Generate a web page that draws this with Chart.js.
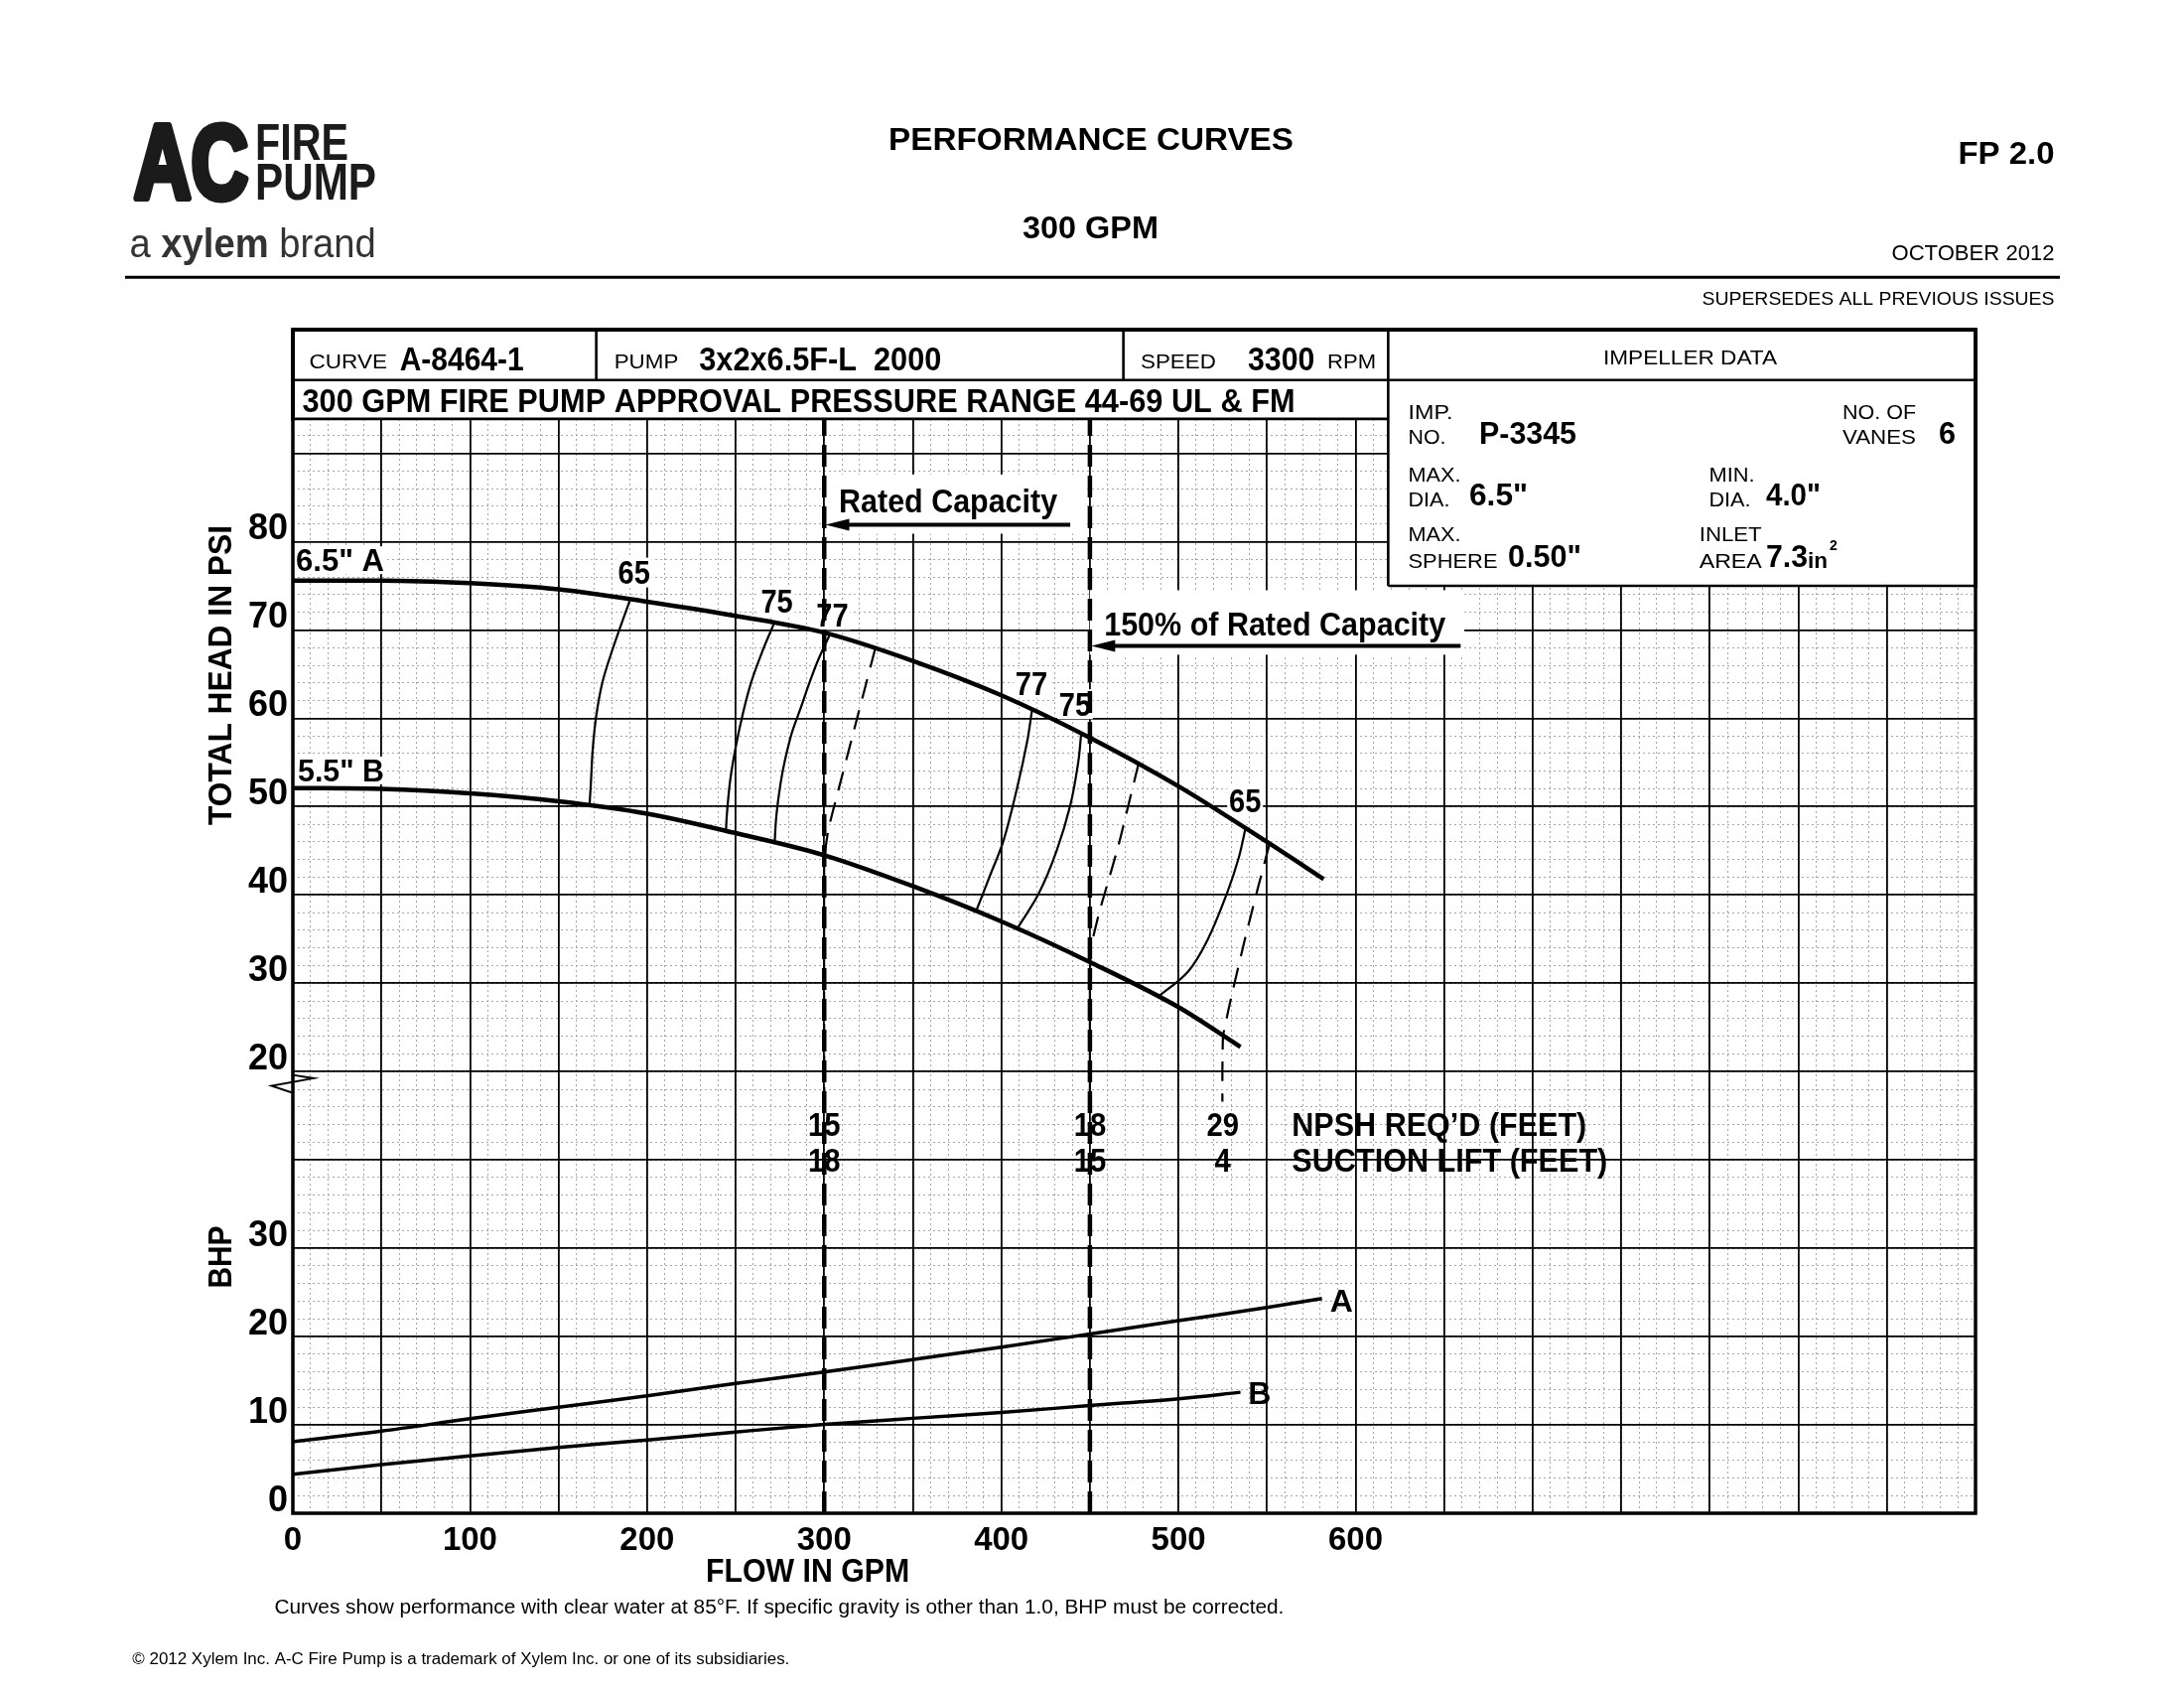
<!DOCTYPE html>
<html>
<head>
<meta charset="utf-8">
<title>300 GPM Performance Curves</title>
<script src="https://cdn.jsdelivr.net/npm/chart.js@4.4.1/dist/chart.umd.min.js"></script>
<style>
  html, body { margin: 0; padding: 0; background: #fff; }
  #wrap { width: 2200px; height: 1700px; }
</style>
</head>
<body>
<div id="wrap"><canvas id="pumpChart" width="2200" height="1700"></canvas></div>
<script>
// axis labels
const flowTickLabels = [0, 100, 200, 300, 400, 500, 600];
const psiTickLabels = [20, 30, 40, 50, 60, 70, 80];
const bhpTickLabels = [0, 10, 20, 30];

// head curves [gpm, psi]
const headA = [[0, 75.6], [50, 75.6], [100, 75.3], [150, 74.6], [200, 73.2], [250, 71.6], [300, 69.7],
  [350, 66.5], [400, 62.6], [450, 57.8], [500, 52.3], [550, 46.0], [582, 41.8]];
const headB = [[0, 52.1], [50, 52.0], [100, 51.5], [150, 50.6], [200, 49.2], [250, 47.0], [300, 44.5],
  [350, 41.0], [400, 37.0], [450, 32.4], [500, 27.3], [535, 22.8]];

// iso-efficiency lines [gpm, psi]
const eff65Left = [[190.5, 73.5], [180.5, 67.8], [174.8, 64.1], [171.3, 60.3], [169.3, 56.5], [168.3, 52.8], [167.5, 50.2]];
const eff75Left = [[271.8, 70.8], [265.5, 67.8], [258.8, 64.1], [253.8, 60.3], [249.8, 56.5], [246.8, 52.8], [245, 49.0], [244.5, 47.1]];
const eff77Left = [[303, 69.4], [296.8, 66.7], [291.8, 64.1], [286.8, 61.2], [281.8, 58.4], [278, 55.4], [275.5, 52.8], [273, 49.0], [272, 45.9]];
const eff77Right = [[417.3, 60.9], [414.6, 57.4], [409, 52.2], [401.3, 46.2], [393.6, 42.2], [385.8, 38.2]];
const eff75Right = [[445.1, 58.3], [443.4, 55.0], [439, 50.2], [431.2, 45.0], [421.2, 40.2], [409, 36.2]];
const eff65Right = [[537.8, 47.5], [534, 44.2], [527.4, 40.2], [516.4, 34.9], [505.3, 31.3], [488.7, 28.5]];
const effLabels = [65, 75, 77, 77, 75, 65];

// NPSH lines [gpm, psi]
const npsh300 = [[328.8, 67.9], [316.6, 58.5], [308.8, 52.5], [302.4, 47.5], [300, 44], [300, 17]];
const npsh450 = [[477.5, 54.9], [466, 45.5], [455.5, 38.2], [450.5, 34], [450, 30], [450, 17]];
const npsh525 = [[551.3, 45.7], [545.1, 41.0], [537.4, 34.9], [530.8, 29.3], [525.2, 24.1], [524.8, 20.1], [524.8, 16.6]];
const npshFlows = [300, 450, 525];
const npshRequired = [15, 18, 29];
const suctionLift = [18, 15, 4];

// rated capacity and 150% flows
const ratedFlows = [300, 450];

// brake horsepower [gpm, bhp]
const bhpA = [[0, 8.1], [50, 9.3], [100, 10.7], [150, 12.0], [200, 13.3], [250, 14.7], [300, 16.0],
  [350, 17.4], [400, 18.8], [450, 20.3], [500, 21.8], [550, 23.3], [581, 24.3]];
const bhpB = [[0, 4.4], [50, 5.5], [100, 6.5], [150, 7.45], [200, 8.3], [250, 9.2], [300, 10.05],
  [350, 10.75], [400, 11.4], [450, 12.2], [500, 12.96], [535, 13.7]];

const SANS = "'Liberation Sans', Arial, sans-serif";
const NARROW = "'Liberation Sans Narrow', 'Liberation Sans', Arial, sans-serif";
const PSI_MIN = -30;      // pressure axis sits 3 grid rows above the BHP zero
const GRID_TOP = 134;     // grid units up to the top frame
const HEADER_BOTTOM = 123.9;

const toXY = pts => pts.map(([x, y]) => ({ x, y }));

function curve(pts, axis, width, extra) {
  return Object.assign({
    data: toXY(pts),
    xAxisID: 'x',
    yAxisID: axis,
    borderColor: '#000',
    borderWidth: width,
    pointRadius: 0,
    fill: false,
    tension: 0.35
  }, extra || {});
}

// draw text whose caps are centred on y, optionally squeezed to width w
function put(ctx, text, x, y, o) {
  o = o || {};
  const size = o.size || 20;
  ctx.save();
  ctx.font = (o.bold ? 'bold ' : '') + size + 'px ' + (o.family || SANS);
  ctx.fillStyle = o.color || '#000';
  ctx.textAlign = 'left';
  ctx.textBaseline = 'alphabetic';
  const raw = ctx.measureText(text).width;
  const sx = o.w ? o.w / raw : (o.sx || 1);
  const w = raw * sx;
  ctx.translate(x, y);
  if (o.rotate) ctx.rotate(o.rotate);
  let dx = 0;
  if (o.align === 'center') dx = -w / 2;
  else if (o.align === 'right') dx = -w;
  ctx.translate(dx, size * 0.358);
  ctx.scale(sx, 1);
  if (o.stroke) {
    ctx.strokeStyle = o.color || '#000';
    ctx.lineWidth = o.stroke;
    ctx.lineJoin = 'round';
    ctx.strokeText(text, 0, 0);
  }
  ctx.fillText(text, 0, 0);
  ctx.restore();
  return w;
}

function arrowLeft(ctx, x0, x1, y) {
  ctx.save();
  ctx.strokeStyle = '#000';
  ctx.fillStyle = '#000';
  ctx.lineWidth = 4;
  ctx.beginPath();
  ctx.moveTo(x0, y);
  ctx.lineTo(x1 + 18, y);
  ctx.stroke();
  ctx.beginPath();
  ctx.moveTo(x1, y);
  ctx.lineTo(x1 + 24, y - 6);
  ctx.lineTo(x1 + 24, y + 6);
  ctx.closePath();
  ctx.fill();
  ctx.restore();
}

const effSpots = [[192.6, 76.5], [273.3, 73.3], [304.6, 71.7], [417, 64.0], [441.6, 61.6], [537.6, 50.7]];

const sheetPlugin = {
  id: 'sheet',
  beforeDatasetsDraw(chart) {
    const { ctx, scales: { x, psi } } = chart;
    ctx.save();
    ctx.fillStyle = '#fff';
    // paper behind the capacity callouts
    [[300.5, 447, 80.9, 87.6], [449.9, 661.4, 67.2, 74.5]].forEach(([g0, g1, p0, p1]) => {
      const L = x.getPixelForValue(g0), R = x.getPixelForValue(g1);
      const T = psi.getPixelForValue(p1), B = psi.getPixelForValue(p0);
      ctx.fillRect(L, T, R - L, B - T);
    });
    effSpots.forEach(([g, p]) => {
      ctx.fillRect(x.getPixelForValue(g) - 18, psi.getPixelForValue(p) - 15, 36, 30);
    });
    const L0 = chart.chartArea.left + 2;
    ctx.fillRect(L0, psi.getPixelForValue(77.9) - 14, 92, 28);
    ctx.fillRect(L0, psi.getPixelForValue(54.1) - 14, 92, 28);
    ctx.restore();
  },
  afterDatasetsDraw(chart) {
    const { ctx, chartArea: ca, scales: { x, y, psi } } = chart;
    const px = g => x.getPixelForValue(g);
    const pp = p => psi.getPixelForValue(p);
    const pb = b => y.getPixelForValue(b);

    // outer frame
    ctx.save();
    ctx.strokeStyle = '#000';
    ctx.lineWidth = 3.5;
    ctx.strokeRect(ca.left, ca.top, ca.right - ca.left, ca.bottom - ca.top);

    // axis break mark at 20 psi
    const zx = ca.left, zy = pb(20 - PSI_MIN);
    ctx.lineWidth = 2;
    ctx.beginPath();
    ctx.moveTo(zx, zy + 3.4);
    ctx.lineTo(zx + 21, zy + 6.7);
    ctx.lineTo(zx - 21.3, zy + 14.4);
    ctx.lineTo(zx - 1.3, zy + 21);
    ctx.stroke();
    ctx.restore();

    // curve labels
    put(ctx, '6.5" A', ca.left + 3, pp(77.9), { size: 31, bold: true, w: 89 });
    put(ctx, '5.5" B', ca.left + 5, pp(54.1), { size: 31, bold: true, w: 87 });
    effSpots.forEach(([g, p], i) => {
      put(ctx, String(effLabels[i]), px(g), pp(p), { size: 33, bold: true, sx: 0.88, align: 'center' });
    });
    put(ctx, 'A', px(592), pb(24.1), { size: 32, bold: true, align: 'center' });
    put(ctx, 'B', px(545.8), pb(13.6), { size: 32, bold: true, align: 'center' });

    // capacity callouts
    put(ctx, 'Rated Capacity', px(308.3), pp(84.65), { size: 33, bold: true, w: 220 });
    arrowLeft(ctx, px(438.9), px(300.7), pp(81.9));
    put(ctx, '150% of Rated Capacity', px(458), pp(70.8), { size: 34, bold: true, w: 344 });
    arrowLeft(ctx, px(659.3), px(450.8), pp(68.2));

    // NPSH / suction lift
    npshFlows.forEach((g, i) => {
      put(ctx, String(npshRequired[i]), px(g), pp(14.1), { size: 34, bold: true, sx: 0.86, align: 'center' });
      put(ctx, String(suctionLift[i]), px(g), pp(10.0), { size: 34, bold: true, sx: 0.86, align: 'center' });
    });
    put(ctx, 'NPSH REQ\u2019D (FEET)', px(564), pp(14.1), { size: 34, bold: true, w: 297 });
    put(ctx, 'SUCTION LIFT (FEET)', px(564), pp(10.0), { size: 34, bold: true, w: 318 });

    // header boxes over the grid
    const T = ca.top, L = ca.left, R = ca.right;
    const yRow1 = pb(128.3), yRow2 = pb(HEADER_BOTTOM), yImp = pb(105);
    const xImp = px(618.4), xD1 = px(171.3), xD2 = px(468.9);
    ctx.save();
    ctx.fillStyle = '#fff';
    ctx.fillRect(L, T, R - L, yRow2 - T);
    ctx.fillRect(xImp, T, R - xImp, yImp - T);
    ctx.strokeStyle = '#000';
    ctx.lineWidth = 2.6;
    ctx.beginPath();
    ctx.moveTo(L, yRow1); ctx.lineTo(R, yRow1);
    ctx.moveTo(L, yRow2); ctx.lineTo(xImp, yRow2);
    ctx.moveTo(xD1, T); ctx.lineTo(xD1, yRow1);
    ctx.moveTo(xD2, T); ctx.lineTo(xD2, yRow1);
    ctx.moveTo(xImp, T); ctx.lineTo(xImp, yImp);
    ctx.moveTo(xImp, yImp); ctx.lineTo(R, yImp);
    ctx.stroke();
    ctx.lineWidth = 4;
    ctx.beginPath();
    ctx.moveTo(L - 1.5, T); ctx.lineTo(R + 1.5, T);
    ctx.moveTo(L, T); ctx.lineTo(L, yRow2 + 2);
    ctx.moveTo(R, T); ctx.lineTo(R, yImp + 2);
    ctx.stroke();
    ctx.restore();

    put(ctx, 'CURVE', 311.5, 363, { size: 21, w: 78.5 });
    put(ctx, 'A-8464-1', 402.7, 360.5, { size: 34, bold: true, w: 125 });
    put(ctx, 'PUMP', 618.7, 363, { size: 21, w: 64.6 });
    put(ctx, '3x2x6.5F-L  2000', 704.3, 360.5, { size: 34, bold: true, w: 244 });
    put(ctx, 'SPEED', 1149, 363, { size: 21, w: 75.8 });
    put(ctx, '3300', 1257, 360.5, { size: 34, bold: true, w: 67.3 });
    put(ctx, 'RPM', 1337, 363, { size: 21, w: 49 });
    put(ctx, 'IMPELLER DATA', 1702.5, 359, { size: 21, w: 175, align: 'center' });
    put(ctx, '300 GPM FIRE PUMP APPROVAL PRESSURE RANGE 44-69 UL & FM', 304.5, 403, { size: 34, bold: true, w: 1000 });

    put(ctx, 'IMP.', 1418.5, 414, { size: 21, w: 45 });
    put(ctx, 'NO.', 1418.5, 439, { size: 21, w: 38 });
    put(ctx, 'P-3345', 1490, 436, { size: 32, bold: true, w: 98 });
    put(ctx, 'NO. OF', 1856, 414, { size: 21, w: 74 });
    put(ctx, 'VANES', 1856, 439, { size: 21, w: 74 });
    put(ctx, '6', 1953, 436, { size: 32, bold: true, w: 17 });
    put(ctx, 'MAX.', 1418.5, 477, { size: 21, w: 53 });
    put(ctx, 'DIA.', 1418.5, 502, { size: 21, w: 42 });
    put(ctx, '6.5"', 1480, 498, { size: 32, bold: true, w: 59 });
    put(ctx, 'MIN.', 1721.5, 477, { size: 21, w: 46 });
    put(ctx, 'DIA.', 1721.5, 502, { size: 21, w: 42 });
    put(ctx, '4.0"', 1779, 498, { size: 32, bold: true, w: 55 });
    put(ctx, 'MAX.', 1418.5, 537, { size: 21, w: 53 });
    put(ctx, 'SPHERE', 1418.5, 564, { size: 21, w: 90 });
    put(ctx, '0.50"', 1519, 560, { size: 32, bold: true, w: 74 });
    put(ctx, 'INLET', 1711.7, 537, { size: 21, w: 63 });
    put(ctx, 'AREA', 1711.7, 564, { size: 21, w: 63 });
    put(ctx, '7.3', 1779, 560, { size: 32, bold: true, w: 42 });
    put(ctx, 'in', 1821, 564, { size: 22, bold: true, w: 20 });
    put(ctx, '2', 1843, 549, { size: 14, bold: true });

    // axis titles
    put(ctx, 'TOTAL HEAD IN PSI', 221, 680, { size: 34, bold: true, w: 302, rotate: -Math.PI / 2, align: 'center' });
    put(ctx, 'BHP', 221, 1266, { size: 34, bold: true, w: 63, rotate: -Math.PI / 2, align: 'center' });
    put(ctx, 'FLOW IN GPM', 813.6, 1581, { size: 33, bold: true, w: 205, align: 'center' });
  },
  afterDraw(chart) {
    const { ctx } = chart;
    // page heading
    put(ctx, 'PERFORMANCE CURVES', 1099, 140, { size: 31, bold: true, w: 408, align: 'center' });
    put(ctx, '300 GPM', 1098.5, 228.7, { size: 31, bold: true, w: 137, align: 'center' });
    put(ctx, 'FP 2.0', 2069.5, 154, { size: 31, bold: true, w: 97, align: 'right' });
    put(ctx, 'OCTOBER 2012', 2069.5, 254, { size: 21.5, w: 164, align: 'right' });
    put(ctx, 'SUPERSEDES ALL PREVIOUS ISSUES', 2069.5, 300, { size: 19, w: 355, align: 'right' });
    ctx.save();
    ctx.strokeStyle = '#000';
    ctx.lineWidth = 3;
    ctx.beginPath();
    ctx.moveTo(126, 279.2);
    ctx.lineTo(2075, 279.2);
    ctx.stroke();
    ctx.restore();

    // logo
    put(ctx, 'AC', 135, 161.8, { size: 106, bold: true, w: 115, stroke: 7, color: '#1b1b1b' });
    put(ctx, 'FIRE', 257, 142.3, { size: 51, bold: true, w: 94, color: '#1b1b1b' });
    put(ctx, 'PUMP', 257, 182.7, { size: 51, bold: true, w: 122, color: '#1b1b1b' });
    ctx.save();
    const parts = [['a ', ''], ['xylem', 'bold '], [' brand', '']];
    let total = 0;
    parts.forEach(([t, wgt]) => { ctx.font = wgt + '40px ' + SANS; total += ctx.measureText(t).width; });
    const sx = 248.3 / total;
    let cx = 130.5;
    ctx.fillStyle = '#333';
    ctx.textBaseline = 'alphabetic';
    parts.forEach(([t, wgt]) => {
      ctx.font = wgt + '40px ' + SANS;
      const w = ctx.measureText(t).width;
      ctx.save();
      ctx.translate(cx, 259.4);
      ctx.scale(sx, 1);
      ctx.fillText(t, 0, 0);
      ctx.restore();
      cx += w * sx;
    });
    ctx.restore();

    // footnotes
    put(ctx, 'Curves show performance with clear water at 85\u00B0F. If specific gravity is other than 1.0, BHP must be corrected.',
      276.4, 1617.7, { size: 20, w: 1017 });
    put(ctx, '\u00A9 2012 Xylem Inc. A-C Fire Pump is a trademark of Xylem Inc. or one of its subsidiaries.',
      133.3, 1670, { size: 16, w: 662 });
  }
};

const yAxisWidth = s => { s.width = 90; };
const zeroWidth = s => { s.width = 0; };
const zeroHeight = s => { s.height = 0; };
const xAxisHeight = s => { s.height = 60; };
const monotone = { cubicInterpolationMode: 'monotone' };

new Chart(document.getElementById('pumpChart'), {
  type: 'line',
  data: {
    datasets: [
      curve(headA, 'psi', 4.5, monotone),
      curve(headB, 'psi', 4.5, monotone),
      ...[eff65Left, eff75Left, eff77Left, eff77Right, eff75Right, eff65Right].map(e => curve(e, 'psi', 2.2)),
      ...[npsh300, npsh450, npsh525].map(n => curve(n, 'psi', 2.2, { borderDash: [20, 12], tension: 0.1 })),
      ...ratedFlows.map(f => curve([[f, 0], [f, HEADER_BOTTOM]], 'y', 4.5, { borderDash: [22, 9], tension: 0 })),
      curve(bhpA, 'y', 3.5, monotone),
      curve(bhpB, 'y', 3.5, monotone)
    ]
  },
  options: {
    responsive: false,
    devicePixelRatio: 1,
    animation: false,
    layout: { padding: { top: 332, left: 205, right: 210, bottom: 116 } },
    plugins: {
      legend: { display: false },
      tooltip: { enabled: false }
    },
    scales: {
      xMinor: {
        type: 'linear', position: 'bottom', min: 0, max: 950, afterFit: zeroHeight,
        border: { display: false, dash: [2, 3] },
        grid: { color: '#a6a6a6', lineWidth: 1, drawTicks: false, z: -2 },
        ticks: { stepSize: 10, display: false }
      },
      yMinor: {
        type: 'linear', position: 'left', min: 0, max: GRID_TOP, afterFit: zeroWidth,
        border: { display: false, dash: [2, 3] },
        grid: { color: '#a6a6a6', lineWidth: 1, drawTicks: false, z: -2 },
        ticks: { stepSize: 2, display: false }
      },
      x: {
        type: 'linear', position: 'bottom', min: 0, max: 950, afterFit: xAxisHeight,
        border: { display: false },
        grid: { color: '#000', lineWidth: 1.8, drawTicks: false },
        ticks: {
          stepSize: 50, autoSkip: false, maxRotation: 0, padding: 8, color: '#000',
          font: { family: NARROW, size: 33, weight: 'bold' },
          callback: v => flowTickLabels.includes(v) ? String(v) : ''
        }
      },
      // one column of labels: BHP at the bottom, pressure above the break
      y: {
        type: 'linear', position: 'left', min: 0, max: GRID_TOP, afterFit: yAxisWidth,
        border: { display: false },
        grid: { color: '#000', lineWidth: 1.8, drawTicks: false },
        ticks: {
          stepSize: 10, autoSkip: false, padding: 5, labelOffset: -12, color: '#000',
          font: { family: NARROW, size: 36, weight: 'bold' },
          callback: v => {
            if (bhpTickLabels.includes(v)) return String(v);
            if (psiTickLabels.includes(v + PSI_MIN)) return String(v + PSI_MIN);
            return '';
          }
        }
      },
      psi: {
        type: 'linear', position: 'left', display: false,
        min: PSI_MIN, max: PSI_MIN + GRID_TOP
      }
    }
  },
  plugins: [sheetPlugin]
});
</script>
</body>
</html>
